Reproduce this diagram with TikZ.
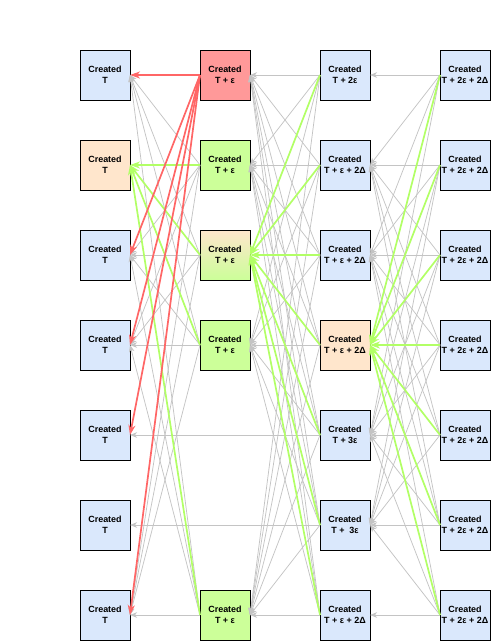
\documentclass[tikz,border=0pt]{standalone}
\usepackage{fontspec}
\setmainfont{Liberation Sans}
\usetikzlibrary{arrows.meta,positioning}
\definecolor{vblue}{HTML}{DAE8FC}
\definecolor{vred}{HTML}{FF9999}
\definecolor{vgreen}{HTML}{CCFF99}
\definecolor{vorange}{HTML}{FFE6CC}
\definecolor{refgray}{HTML}{C4C4C4}
\definecolor{pathgreen}{HTML}{B2FF66}
\definecolor{pathred}{HTML}{FF6666}

\begin{document}
\begin{tikzpicture}[
  x=1bp,y=-1bp,
  font=\fontsize{9}{11}\selectfont\bfseries,
  node distance=40bp and 70bp,
  vtx/.style={draw=black,line width=0.8bp,fill=vblue,
              minimum width=50bp,minimum height=50bp,inner sep=0pt,
              outer sep=0pt,align=center},
  leader/.style={vtx,fill=vred},
  voter/.style={vtx,fill=vgreen},
  anchorv/.style={vtx,fill=vorange},
  mixed/.style={vtx,top color=vorange,bottom color=vgreen},
  ref/.style={-{Stealth[length=7bp,width=5.5bp,inset=2bp]},
              draw=refgray,line width=0.75bp},
  hit/.style={-{Stealth[length=10bp,width=7bp,inset=3bp]},
              draw=pathgreen,line width=1.7bp},
  own/.style={-{Stealth[length=10bp,width=7bp,inset=3bp]},
              draw=pathred,line width=1.7bp},
]
\useasboundingbox (0,0) rectangle (498,641);

% Round 1
\node[vtx] (a1) at (105,75) {Created\\T};
\node[anchorv,below=of a1] (a2) {Created\\T};
\node[vtx,below=of a2] (a3) {Created\\T};
\node[vtx,below=of a3] (a4) {Created\\T};
\node[vtx,below=of a4] (a5) {Created\\T};
\node[vtx,below=of a5] (a6) {Created\\T};
\node[vtx,below=of a6] (a7) {Created\\T};

% Round 2
\node[leader,right=of a1] (b1) {Created\\T + ε};
\node[voter,right=of a2] (b2) {Created\\T + ε};
\node[mixed,right=of a3] (b3) {Created\\T + ε};
\node[voter,right=of a4] (b4) {Created\\T + ε};
\node[voter,right=of a7] (b7) {Created\\T + ε};

% Round 3
\node[vtx,right=190bp of a1] (c1) {Created\\T + 2ε};
\node[vtx,right=190bp of a2] (c2) {Created\\T + ε + 2Δ};
\node[vtx,right=190bp of a3] (c3) {Created\\T + ε + 2Δ};
\node[anchorv,right=190bp of a4] (c4) {Created\\T + ε + 2Δ};
\node[vtx,right=190bp of a5] (c5) {Created\\T + 3ε};
\node[vtx,right=190bp of a6] (c6) {Created\\T +\ \ 3ε};
\node[vtx,right=190bp of a7] (c7) {Created\\T + ε + 2Δ};

% Round 4
\foreach \i in {1,...,7}
  \node[vtx,right=of c\i] (d\i) {Created\\T + 2ε + 2Δ};

% Plain references
\foreach \s in {b2,b3,b4,b7}
  \foreach \t in {a1,a3,a4,a7}
    \draw[ref] (\s.west) -- (\t.east);
\foreach \i in {1,...,7}
  \foreach \t in {b1,b2,b4,b7}
    \draw[ref] (c\i.west) -- (\t.east);
\draw[ref] (c5.west) -- (a5.east);
\draw[ref] (c6.west) -- (a6.east);
\foreach \t in {1,2,3,5}
  \draw[ref] (d1.west) -- (c\t.east);
\foreach \i in {2,...,6}
  \foreach \t in {2,3,5,6}
    \draw[ref] (d\i.west) -- (c\t.east);
\foreach \t in {3,5,6,7}
  \draw[ref] (d7.west) -- (c\t.east);

% Paths to the anchor
\foreach \s in {b2,b3,b4,b7}
  \draw[hit] (\s.west) -- (a2.east);
\foreach \i in {1,...,7} {
  \draw[hit] (c\i.west) -- (b3.east);
  \draw[hit] (d\i.west) -- (c4.east);
}

% Leader references
\foreach \t in {1,3,4,5,7}
  \draw[own] (b1.west) -- (a\t.east);

\end{tikzpicture}
\end{document}
